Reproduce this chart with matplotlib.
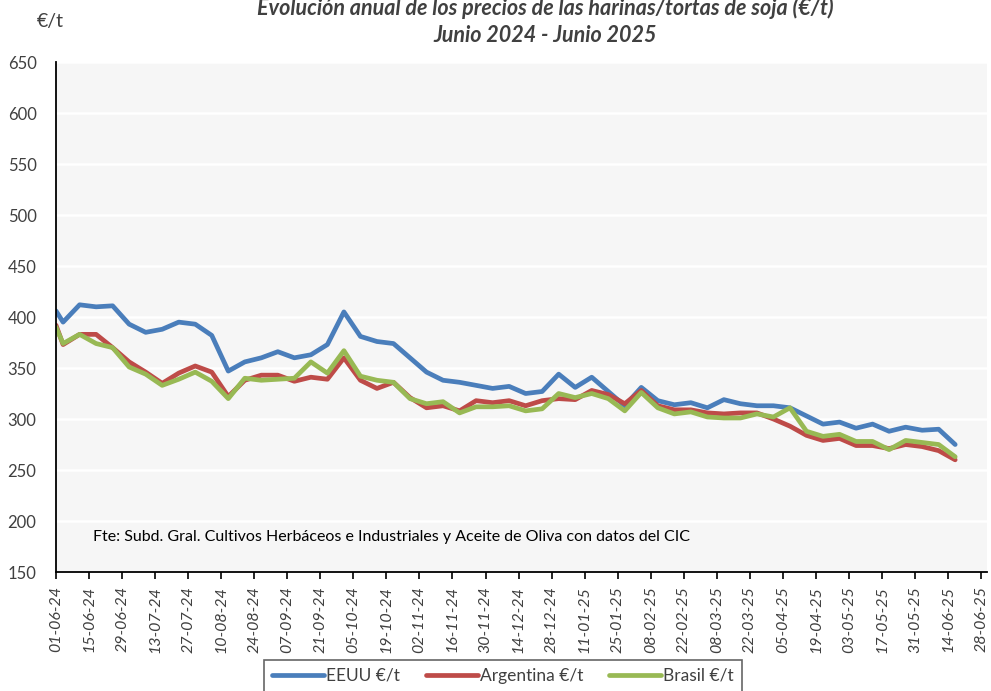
import datetime as dt
import matplotlib
matplotlib.use("Agg")
import matplotlib.pyplot as plt
import matplotlib.dates as mdates

plt.rcParams["font.family"] = ["Lato", "DejaVu Sans"]

# fechas: primer punto en el borde (01-06-24) y despues martes semanales
fechas = [dt.datetime(2024, 6, 1)] + [dt.datetime(2024, 6, 4) + dt.timedelta(weeks=i) for i in range(55)]

eeuu = [406, 395, 412, 410, 411, 393, 385, 388, 395, 393, 382,
        347, 356, 360, 366, 360, 363, 373, 405, 381, 376,
        374, 360, 346, 338, 336, 333, 330, 332, 325, 327,
        344, 331, 341, 327, 313, 331, 318, 314, 316,
        311, 319, 315, 313, 313, 311, 303, 295, 297, 291,
        295, 288, 292, 289, 290, 275]

argentina = [392, 373, 383, 383, 370, 356, 346, 335, 345, 352, 346,
             322, 338, 343, 343, 337, 341, 339, 360, 338, 330,
             336, 321, 311, 313, 308, 318, 316, 318, 313, 318,
             320, 319, 328, 324, 315, 328, 313, 309, 309,
             306, 305, 306, 306, 300, 293, 284, 279, 281, 274,
             274, 271, 275, 273, 269, 260]

brasil = [390, 374, 383, 374, 370, 351, 344, 333, 339, 346, 337,
          320, 340, 338, 339, 340, 356, 345, 367, 342, 338,
          336, 320, 315, 317, 306, 312, 312, 313, 308, 310,
          325, 321, 325, 320, 308, 326, 311, 305, 307,
          302, 301, 301, 305, 302, 311, 288, 283, 285, 278,
          278, 270, 279, 277, 275, 263]

inicio = dt.datetime(2024, 6, 1)
ticks = [inicio + dt.timedelta(days=14 * i) for i in range(29)]

fig = plt.figure(figsize=(9.91, 6.91), dpi=100)
ax = fig.add_axes([0.0565, 0.1722, 0.9395, 0.738])
ax.set_facecolor("#f6f6f6")

ax.plot(fechas, eeuu, color="#4a7ebb", lw=3.4, label="EEUU €/t", solid_capstyle="round")
ax.plot(fechas, argentina, color="#be4b48", lw=3.4, label="Argentina €/t", solid_capstyle="round")
ax.plot(fechas, brasil, color="#98b954", lw=3.4, label="Brasil €/t", solid_capstyle="round")

ax.set_ylim(150, 650)
ax.set_yticks(range(150, 651, 50))
ax.set_xlim(inicio, dt.datetime(2025, 6, 30, 12))
ax.set_xticks(ticks)
ax.xaxis.set_major_formatter(mdates.DateFormatter("%d-%m-%y"))
ax.grid(axis="y", color="white", lw=1.8)
ax.set_axisbelow(True)

for s in ["top", "right"]:
    ax.spines[s].set_visible(False)
for s in ["left", "bottom"]:
    ax.spines[s].set_color("black")
    ax.spines[s].set_linewidth(1.3)

ax.tick_params(axis="y", labelsize=12, length=0, colors="#404040", pad=14)
ax.tick_params(axis="x", labelsize=11.5, length=5, width=1.2, direction="out", colors="black",
               labelcolor="#404040", pad=5)
for lab in ax.get_xticklabels():
    lab.set_rotation(90)
    lab.set_fontstyle("italic")

ax.text(0.04, 0.06, "Fte: Subd. Gral. Cultivos Herbáceos e Industriales y Aceite de Oliva con datos del CIC",
        transform=ax.transAxes, fontsize=11.5, color="black")

fig.text(50 / 991, 1 - 22 / 691, "€/t", fontsize=14, color="#404040", ha="center", va="center")
fig.text(545 / 991, 1 - 8 / 691, "Evolución anual de los precios de las harinas/tortas de soja (€/t)",
         fontsize=15.5, fontweight="bold", fontstyle="italic", color="#404040", ha="center", va="center")
fig.text(545 / 991, 1 - 36 / 691, "Junio 2024 - Junio 2025",
         fontsize=15.5, fontweight="bold", fontstyle="italic", color="#404040", ha="center", va="center")

leg = fig.legend(loc="upper center", bbox_to_anchor=(503 / 991, 1 - 660 / 691), ncol=3,
                 fontsize=12.5, frameon=True, fancybox=False, edgecolor="#404040",
                 handlelength=3.0, columnspacing=1.5, handletextpad=0.1, borderpad=0.45,
                 borderaxespad=0)
leg.get_frame().set_linewidth(1.2)
for t in leg.get_texts():
    t.set_color("#404040")

fig.savefig("out.png", dpi=100)
